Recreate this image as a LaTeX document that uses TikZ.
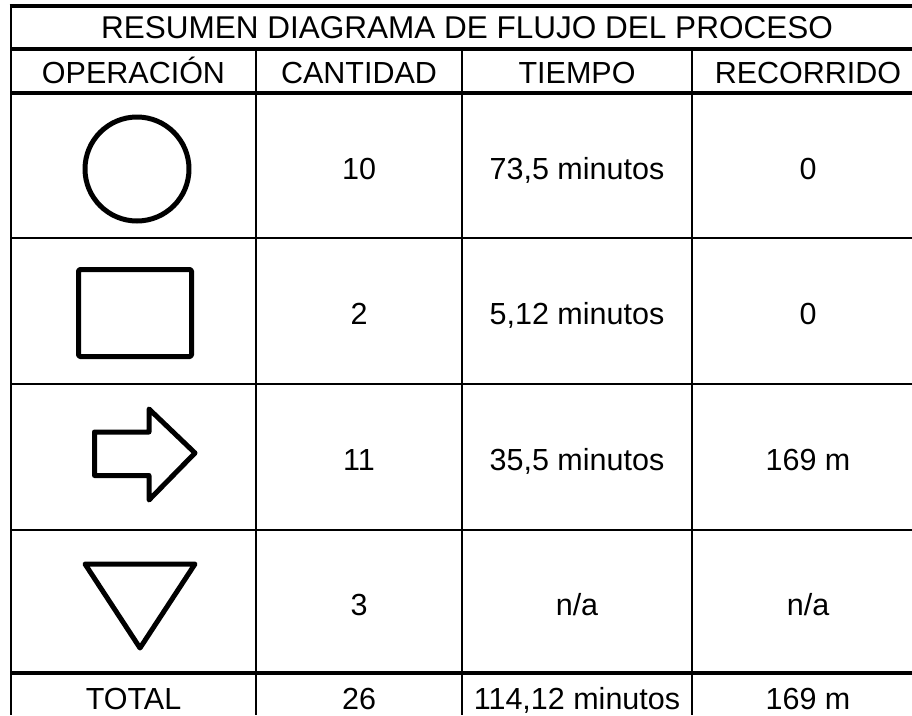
\documentclass[tikz,border=0pt]{standalone}
\usepackage{fontspec}
\setmainfont{Liberation Sans}
\tikzset{
    x=1pt, y=-1pt,
    txt/.style = {anchor=base, inner sep=0pt, font=\fontsize{30.5}{36}\selectfont},
    titletxt/.style = {txt, font=\fontsize{31.5}{38}\selectfont},
    heavy/.style = {line width=4pt},
    light/.style = {line width=2.5pt},
    symb/.style = {line width=5pt, line join=round}
    }

\begin{document}
\begin{tikzpicture}
    \useasboundingbox (0,0) rectangle (912,715);

    % rules of the table
    \draw[light] (11,4.5) -- (11,715);
    \draw[heavy] (9.5,6) -- (912,6);
    \draw[heavy] (11,49) -- (912,49);
    \draw[heavy] (11,93) -- (912,93);
    \draw[light] (11,238) -- (912,238);
    \draw[light] (11,384) -- (912,384);
    \draw[light] (11,530) -- (912,530);
    \draw[heavy] (11,673) -- (912,673);
    \foreach \xc in {256, 462, 692}
        \draw[light] (\xc,49) -- (\xc,715);

    % title and headings
    \node[titletxt] (title) at (467,38) {RESUMEN DIAGRAMA DE FLUJO DEL PROCESO};
    \node[txt] (h1) at (133.5,83) {OPERACIÓN};
    \node[txt] (h2) at (359,83) {CANTIDAD};
    \node[txt] (h3) at (577,83) {TIEMPO};
    \node[txt] (h4) at (808,83) {RECORRIDO};

    % symbols
    \draw[symb] (137,169) circle (52);
    \draw[symb, rounded corners=1.5pt] (78.5,269.5) rectangle (191.5,356.5);
    \draw[symb] (94.5,432) -- (149,432) -- (149,409) -- (195,453)
        -- (149,500) -- (149,475.5) -- (94.5,475.5) -- cycle;
    \draw[symb] (85,564) -- (195,564) -- (140,648) -- cycle;

    % row 1
    \node[txt] (c1) at (359,179) {10};
    \node[txt] (t1) at (577,179) {73,5 minutos};
    \node[txt] (r1) at (808,179) {0};
    % row 2
    \node[txt] (c2) at (359,324.5) {2};
    \node[txt] (t2) at (577,324.5) {5,12 minutos};
    \node[txt] (r2) at (808,324.5) {0};
    % row 3
    \node[txt] (c3) at (359,470.5) {11};
    \node[txt] (t3) at (577,470.5) {35,5 minutos};
    \node[txt] (r3) at (808,470.5) {169 m};
    % row 4
    \node[txt] (c4) at (359,615) {3};
    \node[txt] (t4) at (577,615) {n/a};
    \node[txt] (r4) at (808,615) {n/a};

    % totals
    \node[txt] (tot) at (133.5,709) {TOTAL};
    \node[txt] (c5) at (359,709) {26};
    \node[txt] (t5) at (577,709) {114,12 minutos};
    \node[txt] (r5) at (808,709) {169 m};
\end{tikzpicture}
\end{document}
